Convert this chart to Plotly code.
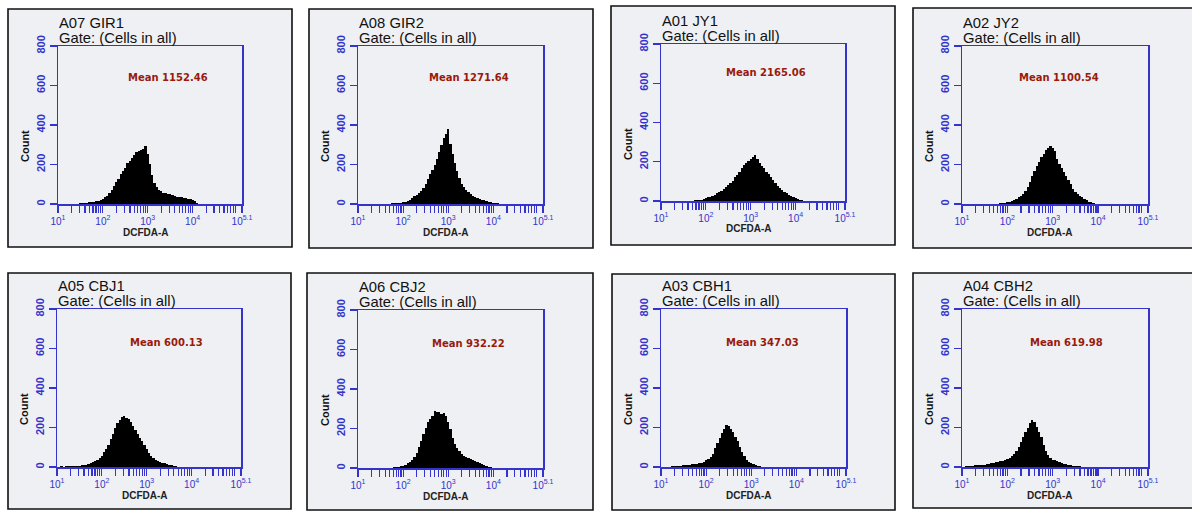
import math
import plotly.graph_objects as go

W, H = 1192, 511

# ---------------- data ----------------
panel_names = ["A07 GIR1", "A08 GIR2", "A01 JY1", "A02 JY2",
               "A05 CBJ1", "A06 CBJ2", "A03 CBH1", "A04 CBH2"]
gate_label = "Gate: (Cells in all)"
mean_values = [1152.46, 1271.64, 2165.06, 1100.54, 600.13, 932.22, 347.03, 619.98]

# histogram channel centres, in decades (log10 of DCFDA-A)
bin_log = [1.05, 1.10, 1.15, 1.20, 1.25, 1.30, 1.35, 1.40, 1.45, 1.50,
           1.55, 1.60, 1.65, 1.70, 1.75, 1.80, 1.85, 1.90, 1.95, 2.00,
           2.05, 2.10, 2.15, 2.20, 2.25, 2.30, 2.35, 2.40, 2.45, 2.50,
           2.55, 2.60, 2.65, 2.70, 2.75, 2.80, 2.85, 2.90, 2.95, 3.00,
           3.05, 3.10, 3.15, 3.20, 3.25, 3.30, 3.35, 3.40, 3.45, 3.50,
           3.55, 3.60, 3.65, 3.70, 3.75, 3.80, 3.85, 3.90, 3.95, 4.00,
           4.05, 4.10, 4.15, 4.20, 4.25, 4.30, 4.35, 4.40, 4.45]

counts_gir1 = [0, 0, 0, 0, 0, 0, 0, 0, 2, 3,
               4, 6, 5, 9, 11, 10, 15, 17, 22, 26,
               33, 42, 56, 71, 90, 113, 126, 152, 165, 184,
               206, 220, 233, 246, 264, 266, 275, 281, 296, 252,
               204, 148, 108, 84, 70, 65, 58, 56, 52, 49,
               46, 43, 38, 36, 33, 30, 29, 26, 25, 21,
               14, 7, 2, 0, 0, 0, 0, 0, 0]
counts_gir2 = [0, 0, 0, 0, 0, 0, 0, 0, 0, 0,
               0, 1, 2, 2, 3, 4, 5, 6, 7, 9,
               12, 16, 22, 30, 40, 48, 55, 64, 80, 100,
               125, 150, 172, 198, 228, 262, 300, 332, 352, 378,
               305, 252, 210, 165, 130, 102, 86, 70, 60, 50,
               40, 34, 30, 25, 21, 18, 15, 12, 9, 6,
               5, 3, 1, 0, 0, 0, 0, 0, 0]
counts_jy1 = [0, 0, 0, 0, 0, 0, 0, 0, 0, 0,
              0, 1, 1, 2, 3, 4, 5, 7, 10, 14,
              18, 22, 28, 33, 40, 46, 52, 60, 70, 80,
              90, 104, 120, 134, 150, 170, 184, 196, 206, 212,
              222, 232, 214, 194, 178, 166, 150, 136, 122, 106,
              92, 78, 64, 55, 46, 39, 32, 26, 20, 15,
              11, 7, 4, 1, 0, 0, 0, 0, 0]
counts_jy2 = [0, 0, 0, 0, 0, 0, 0, 0, 0, 0,
              0, 0, 1, 1, 2, 2, 3, 4, 6, 8,
              10, 14, 19, 26, 33, 41, 52, 66, 84, 110,
              140, 168, 194, 212, 236, 252, 272, 286, 294, 284,
              268, 228, 205, 182, 164, 142, 124, 100, 78, 62,
              52, 43, 36, 27, 18, 12, 8, 4, 2, 1,
              0, 0, 0, 0, 0, 0, 0, 0, 0]
counts_cbj1 = [0, 3, 2, 4, 3, 5, 4, 6, 5, 7,
               8, 10, 11, 13, 18, 24, 30, 38, 46, 58,
               74, 90, 112, 140, 168, 200, 222, 238, 252, 258,
               248, 242, 226, 208, 186, 168, 148, 130, 110, 90,
               72, 58, 46, 37, 31, 26, 22, 19, 15, 12,
               9, 6, 4, 2, 1, 0, 0, 0, 0, 0,
               0, 0, 0, 0, 0, 0, 0, 0, 0]
counts_cbj2 = [0, 0, 0, 0, 0, 0, 0, 0, 0, 0,
               0, 1, 1, 2, 2, 3, 4, 5, 8, 12,
               17, 24, 32, 42, 58, 78, 104, 138, 172, 205,
               232, 250, 264, 290, 282, 286, 272, 276, 262, 232,
               195, 154, 122, 100, 84, 70, 62, 57, 51, 46,
               40, 35, 29, 24, 18, 14, 9, 5, 3, 1,
               0, 0, 0, 0, 0, 0, 0, 0, 0]
counts_cbh1 = [0, 0, 0, 0, 3, 5, 4, 6, 5, 8,
               9, 12, 11, 14, 15, 16, 18, 21, 26, 33,
               42, 52, 66, 96, 120, 148, 170, 192, 212, 210,
               194, 178, 152, 130, 102, 76, 56, 38, 26, 18,
               13, 10, 7, 4, 2, 1, 0, 0, 0, 0,
               0, 0, 0, 0, 0, 0, 0, 0, 0, 0,
               0, 0, 0, 0, 0, 0, 0, 0, 0]
counts_cbh2 = [0, 5, 4, 6, 7, 8, 9, 10, 11, 12,
               14, 16, 18, 20, 23, 26, 29, 32, 36, 40,
               47, 55, 64, 80, 102, 128, 152, 178, 200, 222,
               240, 228, 205, 178, 152, 110, 82, 60, 46, 38,
               33, 29, 25, 21, 17, 13, 11, 9, 7, 5,
               4, 3, 2, 1, 0, 0, 0, 0, 0, 0,
               0, 0, 0, 0, 0, 0, 0, 0, 0]

all_counts = [counts_gir1, counts_gir2, counts_jy1, counts_jy2,
              counts_cbj1, counts_cbj2, counts_cbh1, counts_cbh2]

y_tick_values = [0, 200, 400, 600, 800]
x_major_ticks = [1, 2, 3, 4, 5.1]
x_major_labels = ["10<sup>1</sup>", "10<sup>2</sup>", "10<sup>3</sup>",
                  "10<sup>4</sup>", "10<sup>5.1</sup>"]
x_axis_title = "DCFDA-A"
y_axis_title = "Count"

# ---------------- layout geometry (pixels) ----------------
plot_px = [(58, 242, 46, 204), (358, 543, 46, 204), (661, 845, 44, 201), (962, 1148, 46, 204),
           (57, 241, 309, 467), (358, 543, 310, 468), (661, 846, 309, 467), (962, 1148, 309, 467)]
outer_px = [(8, 292, 9, 247), (309, 593, 9, 248), (611, 895, 6, 245), (913, 1197, 8, 248),
            (8, 291, 273, 509), (307, 593, 273, 510), (612, 895, 274, 510), (913, 1197, 273, 508)]
mean_pos = [(3.45, 638), (3.46, 638), (3.34, 655), (3.14, 638),
            (3.43, 628), (3.44, 628), (3.26, 628), (3.30, 629)]

BLUE = "#3434cc"
RED = "#9a1a0c"
BOX_BG = "#eef0f4"


def px_x(v):
    return v / W


def px_y(v):
    return 1 - v / H


# minor x ticks at 2..9 x each decade
x_minor_vals = [d + math.log10(k) for d in [1, 2, 3, 4] for k in range(2, 10)]

fig = go.Figure()
shapes, annotations = [], []
layout_axes = {}

for i in range(8):
    xa = "x" if i == 0 else f"x{i + 1}"
    ya = "y" if i == 0 else f"y{i + 1}"
    xkey = "xaxis" if i == 0 else f"xaxis{i + 1}"
    ykey = "yaxis" if i == 0 else f"yaxis{i + 1}"
    l, r, t, b = plot_px[i]
    ol, orr, ot, ob = outer_px[i]

    shapes.append(dict(type="rect", xref="paper", yref="paper",
                       x0=px_x(ol), x1=px_x(orr), y0=px_y(ob), y1=px_y(ot),
                       fillcolor=BOX_BG, line=dict(color="#111111", width=1.6), layer="below"))

    fig.add_trace(go.Bar(x=bin_log, y=all_counts[i], width=0.05,
                         marker=dict(color="black", line=dict(width=0)),
                         xaxis=xa, yaxis=ya, showlegend=False, hoverinfo="skip"))

    layout_axes[xkey] = dict(domain=[px_x(l), px_x(r)], anchor=ya, range=[1, 5.1],
                             automargin=False,
                             showline=True, linecolor=BLUE, linewidth=1.5, mirror=True,
                             ticks="outside", ticklen=7, tickwidth=1.2, tickcolor=BLUE,
                             tickmode="array", tickvals=x_major_ticks, ticktext=x_major_labels,
                             tickfont=dict(family="Liberation Sans, Arial", size=10, color=BLUE),
                             minor=dict(tickmode="array", tickvals=x_minor_vals,
                                        ticks="outside", ticklen=7, tickwidth=1.2,
                                        tickcolor=BLUE, showgrid=False),
                             showgrid=False, zeroline=False, fixedrange=True)
    layout_axes[ykey] = dict(domain=[px_y(b), px_y(t)], anchor=xa, range=[0, 800],
                             automargin=False,
                             showline=True, linecolor=BLUE, linewidth=1.5, mirror=True,
                             ticks="outside", ticklen=7, tickwidth=1.2, tickcolor=BLUE,
                             tickmode="array", tickvals=y_tick_values,
                             tickangle=-90,
                             tickfont=dict(family="Liberation Sans, Arial", size=11,
                                           color=BLUE, weight="bold"),
                             showgrid=False, zeroline=False, fixedrange=True)

    # titles
    annotations.append(dict(xref="paper", yref="paper", x=px_x(l - 1), y=px_y(t - 23),
                            text=panel_names[i], showarrow=False, xanchor="left", yanchor="middle",
                            font=dict(family="Liberation Sans, Arial", size=14.8, color="#111111")))
    annotations.append(dict(xref="paper", yref="paper", x=px_x(l - 1), y=px_y(t - 8),
                            text=gate_label, showarrow=False, xanchor="left", yanchor="middle",
                            font=dict(family="Liberation Sans, Arial", size=14.8, color="#111111")))
    annotations.append(dict(xref="paper", yref="paper", x=px_x(l - 33), y=px_y(t + 100),
                            text=y_axis_title, showarrow=False, textangle=-90,
                            xanchor="center", yanchor="middle",
                            font=dict(family="Liberation Sans, Arial", size=11, color="#111111",
                                      weight="bold")))
    annotations.append(dict(xref="paper", yref="paper", x=px_x(l + 88), y=px_y(b + 28),
                            text=x_axis_title, showarrow=False, xanchor="center", yanchor="middle",
                            font=dict(family="Liberation Sans, Arial", size=10, color="#222222",
                                      weight="bold")))
    mx, my = mean_pos[i]
    annotations.append(dict(xref=xa, yref=ya, x=mx, y=my,
                            text=f"Mean {mean_values[i]:.2f}", showarrow=False,
                            xanchor="center", yanchor="middle",
                            font=dict(family="DejaVu Sans", size=10, color=RED, weight="bold")))

fig.update_layout(width=W, height=H,
                  margin=dict(l=0, r=0, t=0, b=0, pad=0, autoexpand=False),
                  paper_bgcolor="white", plot_bgcolor="white",
                  barmode="overlay", bargap=0,
                  shapes=shapes, annotations=annotations, **layout_axes)

fig.write_html("out.html", config={"displayModeBar": False, "staticPlot": True},
               post_script="document.body.style.margin='0';document.body.style.overflow='hidden';")
